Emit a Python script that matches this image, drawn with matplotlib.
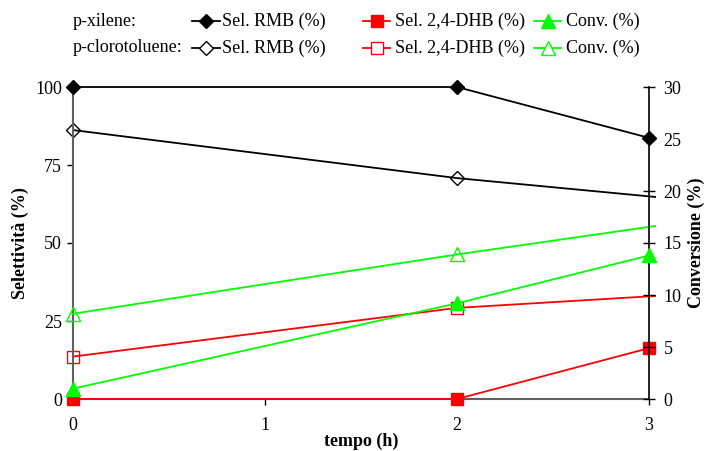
import matplotlib
matplotlib.use("Agg")
import matplotlib.pyplot as plt
from matplotlib.lines import Line2D
from matplotlib.patches import Rectangle

plt.rcParams['font.family'] = ['Liberation Serif', 'DejaVu Serif']

# p-xilene run
t_xil = [0, 2, 3]
xil_rmb = [100, 100, 83.7]
xil_dhb = [0, 0, 16.3]
xil_conv = [1.0, 9.2, 13.8]

# p-clorotoluene run
t_clt = [0, 2, 4]
clt_rmb = [86.2, 70.8, 59.1]
clt_dhb = [13.6, 29.2, 36.6]
clt_conv = [8.2, 13.9, 19.2]

x_ticks = [0, 1, 2, 3]
sel_ticks = [0, 25, 50, 75, 100]
conv_ticks = [0, 5, 10, 15, 20, 25, 30]

BLACK = '#000000'
RED = '#FF0000'
GREEN = '#00FF00'
GREY = '#606060'

W, H = 704, 451
fig = plt.figure(figsize=(W / 100, H / 100), dpi=100)
ax = fig.add_axes([73 / W, 1 - 399 / H, (649 - 73) / W, (399 - 87) / H])
ax2 = ax.twinx()

ax.set_xlim(0, 3)
ax.set_ylim(0, 100)
ax2.set_ylim(0, 30)

lw = 1.3
# series from the p-clorotoluene run continue a little past the last tick
clip_rect = Rectangle((-1, -50), 4.036, 200, transform=ax.transData)
clip_rect2 = Rectangle((-1, -50), 4.036, 200, transform=ax2.transData)

l, = ax.plot(t_clt, clt_rmb, color=BLACK, lw=lw, marker='D', ms=7,
             mfc='none', mec=BLACK, mew=1.0, clip_on=True)
l.set_clip_path(clip_rect)
l, = ax.plot(t_clt, clt_dhb, color=RED, lw=lw, marker='s', ms=9,
             mfc='none', mec=RED, mew=1.0, clip_on=True)
l.set_clip_path(clip_rect)
l, = ax2.plot(t_clt, clt_conv, color=GREEN, lw=lw, marker='^', ms=10,
              mfc='none', mec=GREEN, mew=1.0, clip_on=True)
l.set_clip_path(clip_rect2)

ax.plot(t_xil, xil_rmb, color=BLACK, lw=lw, marker='D', ms=7,
        mfc=BLACK, mec=BLACK, clip_on=False, zorder=3)
ax2.plot(t_xil, xil_conv, color=GREEN, lw=lw, marker='^', ms=10,
         mfc=GREEN, mec=GREEN, clip_on=False, zorder=3)
ax.plot(t_xil, xil_dhb, color=RED, lw=lw, marker='s', ms=9,
        mfc=RED, mec=RED, clip_on=False, zorder=4)

# axes styling
for a in (ax, ax2):
    a.spines['top'].set_visible(False)
ax.spines['right'].set_visible(False)
ax2.spines['left'].set_visible(False)
ax2.spines['bottom'].set_visible(False)
ax.spines['left'].set_color(GREY)
ax.spines['bottom'].set_color(GREY)
ax.spines['left'].set_linewidth(1.5)
ax.spines['bottom'].set_linewidth(1.5)
ax2.spines['right'].set_color(BLACK)
ax2.spines['right'].set_linewidth(1.2)

ax.set_xticks(x_ticks)
ax.set_yticks(sel_ticks)
ax2.set_yticks(conv_ticks)
ax.tick_params(axis='x', direction='out', length=4, width=1, color=BLACK,
               labelsize=13, pad=9)
ax.tick_params(axis='y', direction='out', length=4, width=1, color=BLACK,
               labelsize=13, pad=4)
ax2.tick_params(axis='y', direction='inout', length=9, width=1, color=BLACK,
                labelsize=13, pad=6)

ax.set_xlabel('tempo (h)', fontsize=13, fontweight='bold', labelpad=-1)
ax.set_ylabel('Selettività (%)', fontsize=13, fontweight='bold', labelpad=4.5)
ax2.set_ylabel('Conversione (%)', fontsize=13, fontweight='bold', labelpad=4)

# legend built by hand in two rows
def fx(px):
    return px / W

def fy(py):
    return 1 - py / H

rows = [
    (21, 'p-xilene:', [('D', BLACK, True, 7), ('s', RED, True, 9), ('^', GREEN, True, 10)]),
    (48, 'p-clorotoluene:', [('D', BLACK, False, 7), ('s', RED, False, 9), ('^', GREEN, False, 10)]),
]
labels = ['Sel. RMB (%)', 'Sel. 2,4-DHB (%)', 'Conv. (%)']
sample_x = [(192, 220), (363, 390), (534, 561)]
text_x = [222, 395, 566]

for py, title, marks in rows:
    fig.text(fx(73), fy(py), title, fontsize=13, va='center', ha='left')
    for (mk, col, filled, ms), (x0, x1), tx, lab in zip(marks, sample_x, text_x, labels):
        fig.add_artist(Line2D([fx(x0), fx(x1)], [fy(py), fy(py)],
                              transform=fig.transFigure, color=col, lw=lw))
        fig.add_artist(Line2D([fx((x0 + x1) / 2)], [fy(py)],
                              transform=fig.transFigure, marker=mk, ms=ms,
                              mfc=col if filled else 'white', mec=col, mew=1.0))
        fig.text(fx(tx), fy(py), lab, fontsize=13, va='center', ha='left')

fig.savefig('out.png', dpi=100)
